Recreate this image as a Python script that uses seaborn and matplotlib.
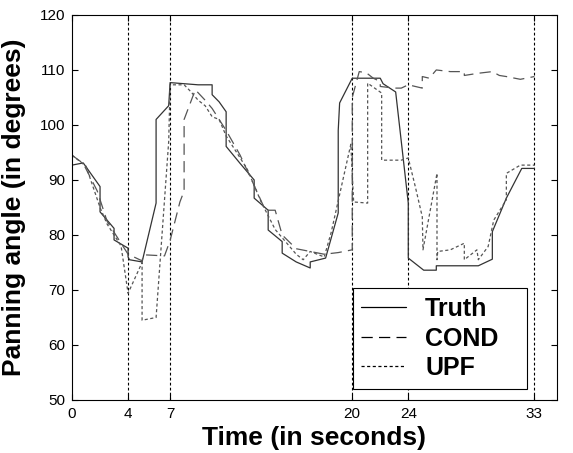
import matplotlib
matplotlib.use("Agg")
import matplotlib.pyplot as plt
import seaborn as sns
import pandas as pd

# time markers (vertical dotted lines / x ticks)
event_times = [0, 4, 7, 20, 24, 33]

truth_t = [0, 0.8, 2, 2, 3, 3, 4, 4, 4.1, 5, 6, 6, 6.9, 7, 9, 10, 10, 10.5, 11, 11,
           12, 13, 13, 14, 14, 15, 15, 16, 17, 17, 18.1, 19, 19, 19.1, 20, 22, 22.2,
           23.1, 24, 24, 25.1, 26, 26, 29, 30, 30, 31, 32.1, 33]
truth_y = [92.7, 93.1, 88.8, 84.2, 81.2, 79.1, 77.6, 76, 75.5, 75.1, 85.8, 101, 103.5,
           107.7, 107.3, 107.3, 105.5, 104.2, 102.4, 96.1, 93, 90, 86.7, 84.5, 80.9,
           78.8, 76.7, 75.1, 74, 75.1, 75.8, 84, 99, 104, 108.5, 108.5, 107.5, 106,
           85.8, 75.8, 73.6, 73.6, 74.4, 74.4, 75.6, 80.6, 86.7, 92.1, 92.1]

cond_t = [0, 0.8, 1.8, 2.5, 3, 4, 5, 5.1, 6.6, 7, 7.7, 8, 8, 8.8, 9.5, 10, 11, 12, 13,
          13.8, 14.5, 15, 16, 17, 18, 19, 20, 20, 20.5, 21, 21.5, 22, 22, 23, 23.5, 24,
          25, 25, 25.5, 26, 27, 28, 28, 29, 30, 30.5, 31, 32, 33]
cond_y = [94.5, 93, 88, 82.5, 80.5, 76.5, 75.3, 76.4, 76.2, 79, 86, 88, 101, 106.4,
          104.5, 103, 99, 94.5, 89, 84.5, 84.5, 80, 77.5, 77, 76.5, 76.8, 77.3, 105,
          109.7, 109.5, 108.5, 107.9, 107, 106.7, 106.7, 107.3, 106.7, 108.8, 108.5,
          110, 109.7, 109.7, 109, 109.4, 109.7, 109, 108.8, 108.3, 108.8]

upf_t = [0, 1, 2, 2.5, 3, 3.5, 4, 5, 5, 6, 6.9, 7, 8, 8.5, 9, 9.5, 10, 10.5, 11, 12,
         12.5, 13, 13.5, 14, 14.5, 15, 15.5, 16, 16.5, 17, 18, 18.5, 19.9, 20.1, 21.1,
         21.1, 22.1, 22.1, 23.5, 24, 24.5, 25, 25.05, 26.05, 26.05, 26.1, 27, 28, 28,
         28.9, 29, 29.7, 30.1, 31, 31, 32, 33]
upf_y = [94.5, 92.5, 85, 82, 80, 78, 69.4, 75, 64.5, 65, 97, 107.3, 107.3, 106, 104.5,
         103.5, 101.5, 101, 98, 94, 92, 89, 86, 83.5, 81, 79.5, 78, 76.5, 75.5, 77, 76,
         80.5, 96.5, 86, 85.8, 107.6, 105.8, 93.6, 93.6, 94, 88.8, 83.3, 77.3, 91.2,
         75.5, 77, 77.3, 78.5, 75.5, 77.3, 75.5, 77.9, 82.7, 86.4, 91.2, 92.7, 92.7]

sns.set_style("ticks")
plt.rcParams["font.family"] = ["Liberation Sans", "DejaVu Sans"]
for k in ["text.color", "axes.labelcolor", "xtick.color", "ytick.color"]:
    plt.rcParams[k] = "black"

fig = plt.figure(figsize=(5.73, 4.53), dpi=100)
ax = fig.add_axes([0.1257, 0.117, 0.846, 0.85])

for t in event_times[1:]:
    ax.axvline(t, color="black", lw=0.8, linestyle=(0, (2.5, 2)))

series = [
    ("Truth", truth_t, truth_y, "-", "#333333"),
    ("COND", cond_t, cond_y, (0, (9, 5)), "#555555"),
    ("UPF", upf_t, upf_y, (0, (2.5, 2)), "#555555"),
]
for name, t, y, ls, col in series:
    df = pd.DataFrame({"t": t, "y": y})
    sns.lineplot(data=df, x="t", y="y", ax=ax, estimator=None, sort=False,
                 color=col, lw=0.9, linestyle=ls, label=name)

ax.set_xlim(0, 34.6)
ax.set_ylim(50, 120)
ax.set_xticks(event_times)
ax.set_yticks(range(50, 121, 10))
ax.tick_params(direction="in", top=True, right=True, length=4, labelsize=10,
               width=0.8, pad=5)
for lab in ax.get_xticklabels() + ax.get_yticklabels():
    lab.set_family(["Liberation Sans Narrow", "Liberation Sans"])
    lab.set_fontsize(11)
for s in ax.spines.values():
    s.set_linewidth(0.8)
    s.set_color("black")
ax.set_xlabel("Time (in seconds)", fontsize=19, fontweight="bold", labelpad=4)
ax.set_ylabel("Panning angle (in degrees)", fontsize=19, fontweight="bold", labelpad=10)

leg = ax.legend(loc="lower left", bbox_to_anchor=(0.579, 0.0286, 0.359, 0.27),
                mode="expand", borderaxespad=0, fancybox=False, framealpha=1,
                edgecolor="black", handlelength=1.8, handletextpad=0.75,
                prop={"weight": "bold", "size": 18}, borderpad=0.35,
                labelspacing=0.22)
leg.get_frame().set_linewidth(0.8)
for line in leg.get_lines():
    line.set_color("black")

fig.savefig("out.png", dpi=100)
